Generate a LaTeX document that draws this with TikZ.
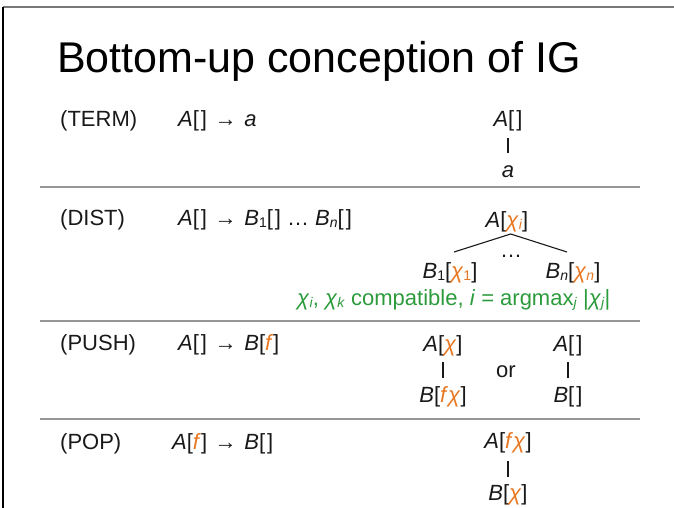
\documentclass[tikz,border=0pt]{standalone}
\usepackage{fontspec}
\setmainfont{Liberation Sans}
\definecolor{orng}{RGB}{232,119,34}
\definecolor{grn}{RGB}{44,155,60}
\definecolor{rulegray}{RGB}{150,150,150}
\definecolor{frametop}{RGB}{120,120,120}
\definecolor{txt}{RGB}{25,25,25}
\newcommand{\ch}{\textcolor{orng}{\textit{χ}}}
\newcommand{\fo}{\textcolor{orng}{\textit{f}}}
\newcommand{\lowsub}[1]{\raisebox{-2.5pt}{\fontsize{14}{14}\selectfont #1}}
\newcommand{\osub}[1]{\textcolor{orng}{\lowsub{#1}}}
\newcommand{\eb}{[\kern2pt]}
\newcommand{\arw}{\kern1.5pt→\kern1.5pt}
\begin{document}
\begin{tikzpicture}[x=1pt,y=-1pt,
  titletext/.style={font=\fontsize{43}{48}\selectfont, inner sep=0, anchor=base west, text=black},
  body/.style={font=\fontsize{22}{26}\selectfont, inner sep=0, anchor=base west, text=txt},
  tree/.style={font=\fontsize{22}{26}\selectfont, inner sep=0, anchor=base, text=txt, text height=16pt, text depth=5pt},
  cond/.style={font=\fontsize{22}{26}\selectfont, inner sep=0, anchor=base west, text=grn},
  divider/.style={draw=rulegray, line width=1.4pt},
  edge/.style={draw=txt, line width=1.1pt}]
\useasboundingbox (0,0) rectangle (674,508);
% frame
\draw[draw=frametop, line width=1.8pt] (3,7) -- (674,7);
\draw[draw=black, line width=1.5pt] (3,7) -- (3,508);
% title
\node[titletext] (title) at (57,73) {Bottom-up conception of IG};
% dividers
\draw[divider] (40,187) -- (640,187);
\draw[divider] (40,321) -- (640,321);
\draw[divider] (40,419) -- (640,419);
% TERM
\node[body] (term) at (60,127) {(TERM)};
\node[body] (termrule) at (178,127) {\textit{A}\eb{} \arw{} \textit{a}};
\node[tree] (tA) at (508,127) {\textit{A}\eb};
\node[tree] (ta) at (508,177) {\textit{a}};
\draw[edge, shorten <=6pt, shorten >=8pt] (tA) -- (ta);
% DIST
\node[body] (dist) at (60,225) {(DIST)};
\node[body] (distrule) at (178,225) {\textit{A}\eb{} \arw{} \textit{B}\lowsub{1}\eb{} … \textit{B}\lowsub{\textit{n}}\eb};
\node[tree] (dA) at (507,227) {\textit{A}[\ch\osub{\textit{i}}]};
\node[tree] (dB1) at (450,278) {\textit{B}\lowsub{1}[\ch\osub{1}]};
\node[tree] (dBn) at (573,278) {\textit{B}\lowsub{\textit{n}}[\ch\osub{\textit{n}}]};
\node[tree, text height=5pt, text depth=0pt] (dots) at (511,257) {…};
\coordinate (apex) at (510.7,234);
\coordinate (lend) at (454,252);
\coordinate (rend) at (567,252);
\draw[edge] (lend) -- (apex) -- (rend);
\node[cond] (compat) at (297,305) {\textit{χ}\lowsub{\textit{i}}, \textit{χ}\lowsub{\textit{k}} compatible, \textit{i} = argmax\lowsub{\textit{j}} |\textit{χ}\lowsub{\textit{j}}|};
% PUSH
\node[body] (push) at (60,350) {(PUSH)};
\node[body] (pushrule) at (178,350) {\textit{A}\eb{} \arw{} \textit{B}[\fo]};
\node[tree] (pA) at (443,351) {\textit{A}[\ch]};
\node[tree] (pB) at (443,402) {\textit{B}[\fo\ch]};
\draw[edge, shorten <=6pt, shorten >=8pt] (pA) -- (pB);
\node[body, anchor=base] (or) at (506,377) {or};
\node[tree] (pA2) at (568,351) {\textit{A}\eb};
\node[tree] (pB2) at (568,402) {\textit{B}\eb};
\draw[edge, shorten <=6pt, shorten >=8pt] (pA2) -- (pB2);
% POP
\node[body] (pop) at (60,449) {(POP)};
\node[body] (poprule) at (172,449) {\textit{A}[\fo] \arw{} \textit{B}\eb};
\node[tree] (oA) at (508,448) {\textit{A}[\fo\ch]};
\node[tree] (oB) at (508,500) {\textit{B}[\ch]};
\draw[edge, shorten <=8pt, shorten >=7pt] (oA) -- (oB);
\end{tikzpicture}
\end{document}
